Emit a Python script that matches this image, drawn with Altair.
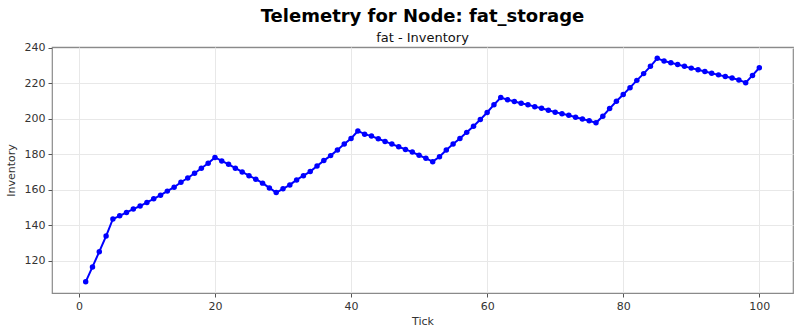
import altair as alt
import pandas as pd

ticks = list(range(1, 101))
inventory = [
    108.0, 116.4, 125.0, 133.8, 143.4, 145.2, 147.1, 149.0, 150.7, 152.7,
    154.8, 156.8, 159.1, 161.3, 164.1, 166.5, 169.2, 172.0, 174.8, 178.1,
    176.1, 174.2, 172.0, 169.9, 167.8, 165.8, 163.6, 160.9, 158.3, 160.4,
    162.6, 165.4, 167.8, 170.1, 173.3, 176.3, 179.1, 182.3, 185.6, 188.8,
    193.0, 191.2, 190.1, 188.6, 187.1, 185.6, 184.1, 182.6, 181.1, 179.3,
    177.6, 175.7, 178.5, 182.3, 185.6, 188.8, 192.2, 195.7, 199.5, 203.4,
    207.8, 211.8, 210.6, 209.6, 208.6, 207.8, 206.7, 205.8, 204.7, 203.6,
    202.7, 201.8, 200.7, 199.7, 198.7, 197.6, 201.3, 205.6, 209.7, 213.5,
    217.4, 221.5, 225.3, 229.4, 233.9, 232.4, 231.4, 230.4, 229.4, 228.4,
    227.5, 226.5, 225.5, 224.6, 223.7, 222.8, 221.7, 220.2, 224.3, 228.6,
]

df = pd.DataFrame({"Tick": ticks, "Inventory": inventory})

FONT = "DejaVu Sans"

base = alt.Chart(df).encode(
    x=alt.X(
        "Tick:Q",
        scale=alt.Scale(domain=[-3.95, 104.95], nice=False, zero=False),
        axis=alt.Axis(values=[0, 20, 40, 60, 80, 100], title="Tick"),
    ),
    y=alt.Y(
        "Inventory:Q",
        scale=alt.Scale(domain=[101.7, 240.3], nice=False, zero=False),
        axis=alt.Axis(values=[120, 140, 160, 180, 200, 220, 240], title="Inventory"),
    ),
)

line = base.mark_line(color="#0000ff", strokeWidth=2)
pts = base.mark_circle(color="#0000ff", size=30, opacity=1)

chart = (
    (line + pts)
    .properties(
        width=741,
        height=246,
        title=alt.TitleParams(
            "Telemetry for Node: fat_storage",
            subtitle="fat - Inventory",
            fontSize=18,
            fontWeight="bold",
            font=FONT,
            color="#000000",
            subtitleFont=FONT,
            subtitleFontSize=13,
            subtitleColor="#111111",
            subtitlePadding=6,
            anchor="middle",
            offset=-3,
        ),
        autosize=alt.AutoSizeParams(type="none"),
        padding={"left": 52, "top": 47, "right": 7, "bottom": 38},
    )
    .configure_view(stroke="#8a8a8a", strokeWidth=1.2)
    .configure_axis(
        domain=False,
        grid=True,
        gridColor="#e8e8e8",
        gridWidth=1,
        ticks=True,
        tickColor="#555555",
        tickSize=4,
        labelFont=FONT,
        labelFontSize=11,
        labelColor="#333333",
        labelPadding=3,
        titleFont=FONT,
        titleFontSize=11,
        titleFontWeight="normal",
        titleColor="#333333",
    )
    .configure_axisX(titlePadding=4)
    .configure_axisY(titlePadding=8)
)

chart.save("out.html", embed_options={"renderer": "svg", "actions": False})
